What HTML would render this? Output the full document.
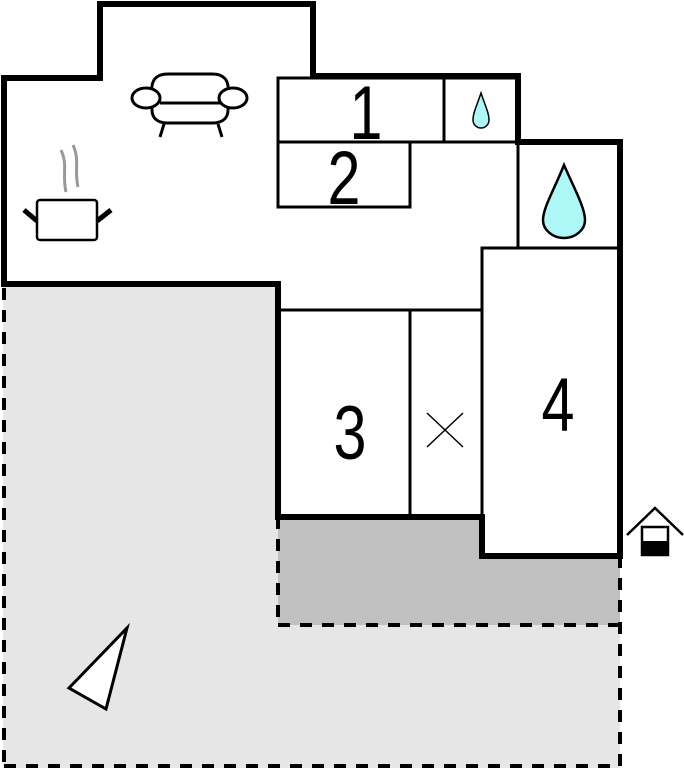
<!DOCTYPE html>
<html><head><style>body{margin:0;background:#fff}svg{display:block}</style></head><body>
<svg width="684" height="768" viewBox="0 0 684 768" xmlns="http://www.w3.org/2000/svg">
<rect x="3" y="284" width="617" height="484" fill="#e6e6e6"/>
<rect x="278" y="517" width="342" height="108" fill="#c0c0c0"/>
<g stroke="#000" stroke-width="4" stroke-dasharray="12,10" fill="none">
<line x1="4" y1="288" x2="4" y2="768"/>
<line x1="4" y1="766" x2="620" y2="766"/>
<line x1="620" y1="556" x2="620" y2="768"/>
<line x1="278" y1="517" x2="278" y2="625"/>
<line x1="278" y1="625" x2="620" y2="625"/>
</g>
<polygon points="4,78 100,78 100,4 313,4 313,76 518,76 518,142 620,142 620,556 482,556 482,517 278,517 278,284 4,284" fill="#fff"/>
<g stroke="#000" stroke-width="3" fill="none">
<rect x="278" y="78" width="240" height="64"/>
<line x1="444" y1="78" x2="444" y2="142"/>
<rect x="278" y="142" width="132" height="65"/>
<rect x="518" y="142" width="102" height="106"/>
<rect x="482" y="248" width="138" height="308"/>
<line x1="278" y1="310" x2="482" y2="310"/>
<line x1="410" y1="310" x2="410" y2="517"/>
</g>
<polygon points="4,78 100,78 100,4 313,4 313,76 518,76 518,142 620,142 620,556 482,556 482,517 278,517 278,284 4,284" fill="none" stroke="#000" stroke-width="6"/>
<g font-family="Liberation Sans, sans-serif" font-size="76" text-anchor="middle" fill="#000">
<text transform="translate(366,139) scale(0.78,1)">1</text>
<text transform="translate(344,204) scale(0.78,1)">2</text>
<text transform="translate(350,459) scale(0.78,1)">3</text>
<text transform="translate(558,431) scale(0.78,1)">4</text>
</g>
<g stroke="#000" stroke-width="1.5"><line x1="427" y1="413" x2="463" y2="447"/><line x1="463" y1="413" x2="427" y2="447"/></g>
<path d="M481,93 C477,105 473,113 473,120 A8,8 0 0 0 489,120 C489,113 485,105 481,93Z" fill="#aef7f7" stroke="#000" stroke-width="1.5"/>
<path d="M564,165 C554,190 543,208 543,220 A21,18 0 0 0 585,220 C585,208 575,190 564,165Z" fill="#aef7f7" stroke="#000" stroke-width="2.5"/>
<g stroke="#000" stroke-width="3" fill="#fff">
<path d="M152,95 C150,78 158,74 168,74 L212,74 C222,74 230,78 228,95 L228,110 C228,120 220,123 212,123 L168,123 C160,123 152,120 152,110Z"/>
<line x1="160" y1="103" x2="220" y2="103"/>
<ellipse cx="146" cy="98" rx="14" ry="10"/>
<ellipse cx="233" cy="98" rx="14" ry="10"/>
<line x1="164" y1="124" x2="160" y2="137"/>
<line x1="218" y1="124" x2="222" y2="137"/>
<rect x="37" y="200" width="60" height="40" rx="3" stroke-width="2.5"/>
<line x1="24" y1="210" x2="37" y2="221" stroke-width="5"/>
<line x1="97" y1="221" x2="111" y2="210" stroke-width="5"/>
</g>
<g stroke="#999" stroke-width="3" fill="none">
<path d="M61,150 C68,165 62,175 66,192"/>
<path d="M73,145 C80,160 74,170 78,187"/>
</g>
<polygon points="69,688 127,628 106,709" fill="#fff" stroke="#000" stroke-width="3"/>
<g stroke="#000" stroke-width="2.5" fill="none">
<polyline points="627,535 655,508 683,535"/>
<rect x="642" y="527" width="26" height="28" fill="#fff"/>
</g>
<rect x="641" y="541" width="28" height="15" fill="#000"/>
</svg>
</body></html>
